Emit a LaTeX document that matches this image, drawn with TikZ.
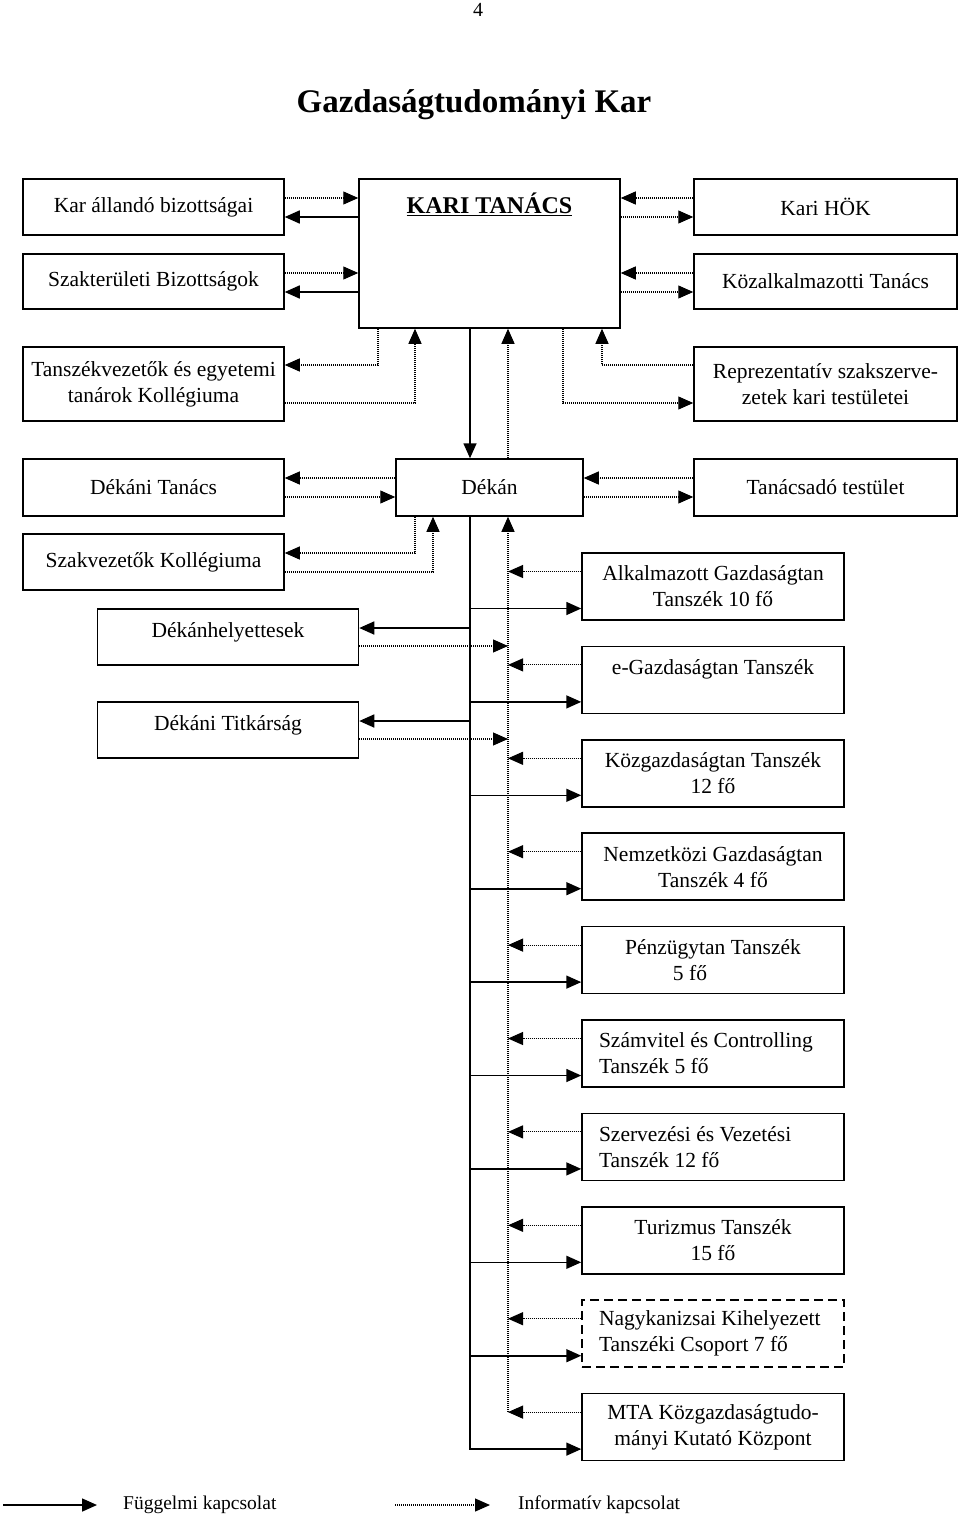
\documentclass[tikz,border=0pt]{standalone}
\usepackage{fontspec}
\setmainfont{Liberation Serif}
\usetikzlibrary{arrows.meta,calc}
\newcommand\mainsz{\fontsize{21.5}{26}\selectfont}
\newcommand\legsz{\fontsize{19.5}{23}\selectfont}
\tikzset{
  box/.style={draw, line width=1.5pt, inner sep=2pt, align=center, font=\mainsz},
  sub/.style={line width=1.6pt, -{Triangle[length=15pt,width=13pt]}},
  info/.style={line width=1.1pt, dash pattern=on 1pt off 1pt, -{Triangle[length=15pt,width=13pt]}},
  lbox/.style={box, minimum width=261pt},
  rbox/.style={box, minimum width=263pt},
  dbox/.style={box, minimum width=262pt, minimum height=67pt},
  ltext/.style={text width=228pt, inner xsep=17pt, align=flush left},
}
\begin{document}
\begin{tikzpicture}[x=1pt,y=-1pt]
\useasboundingbox (0,0) rectangle (960,1518);
% header
\node[font=\fontsize{20}{24}\selectfont] (pg) at (478,10) {4};
\node[font=\fontsize{33}{38}\selectfont\bfseries] (title) at (474,105) {Gazdaságtudományi Kar};
% centre
\node[box, minimum width=261pt, minimum height=149pt] (kt) at (489.5,253.5) {};
\node[font=\fontsize{24}{28}\selectfont\bfseries] (kttext) at (489.5,204) {\underline{KARI TANÁCS}};
\node[box, minimum width=187pt, minimum height=57pt] (dekan) at (489.5,487.5) {Dékán};
% left column
\node[lbox, minimum height=56pt] (kab) at (153.5,207) {Kar állandó bizottságai};
\node[lbox, minimum height=55pt] (szb) at (153.5,281.5) {Szakterületi Bizottságok};
\node[lbox, minimum height=74pt] (tvk) at (153.5,384) {Tanszékvezetők és egyetemi\\tanárok Kollégiuma};
\node[lbox, minimum height=57pt] (dt) at (153.5,487.5) {Dékáni Tanács};
\node[lbox, minimum height=56pt] (szk) at (153.5,562) {Szakvezetők Kollégiuma};
\node[lbox, minimum height=56pt] (dh) at (228,637) {Dékánhelyettesek\\[-13pt]\mbox{}};
\node[lbox, minimum height=56pt] (dtk) at (228,730) {Dékáni Titkárság\\[-13pt]\mbox{}};
% right column
\node[rbox, minimum height=56pt] (hok) at (825.5,207) {Kari HÖK};
\node[rbox, minimum height=55pt] (kozt) at (825.5,281.5) {Közalkalmazotti Tanács};
\node[rbox, minimum height=74pt] (rep) at (825.5,384) {Reprezentatív szakszerve-\\zetek kari testületei};
\node[rbox, minimum height=57pt] (tt) at (825.5,487.5) {Tanácsadó testület};
% departments
\node[dbox] (alk) at (713,586.5) {Alkalmazott Gazdaságtan\\Tanszék 10 fő};
\node[dbox] (egz) at (713,679.9) {e-Gazdaságtan Tanszék\\\mbox{}};
\node[dbox] (kgz) at (713,773.3) {Közgazdaságtan Tanszék\\12 fő};
\node[dbox] (nmz) at (713,866.7) {Nemzetközi Gazdaságtan\\Tanszék 4 fő};
\node[dbox] (pnz) at (713,960.1) {Pénzügytan Tanszék\\5 fő\hspace*{46pt}};
\node[dbox, ltext] (szc) at (713,1053.5) {Számvitel és Controlling\\Tanszék 5 fő};
\node[dbox, ltext] (szv) at (713,1146.9) {Szervezési és Vezetési\\Tanszék 12 fő};
\node[dbox] (tur) at (713,1240.3) {Turizmus Tanszék\\15 fő};
\node[dbox, ltext, dash pattern=on 9pt off 5pt] (nkz) at (713,1333.7) {Nagykanizsai Kihelyezett\\Tanszéki Csoport 7 fő};
\node[dbox] (mta) at (713,1427.1) {MTA Közgazdaságtudo-\\mányi Kutató Központ};
\coordinate (dbot) at (508,1412.1);
% KARI TANÁCS left links
\draw[info] ($(kab.east)+(0,-9)$) -- ($(kab.east -| kt.west)+(0,-9)$);
\draw[sub] ($(kab.east -| kt.west)+(0,10)$) -- ($(kab.east)+(0,10)$);
\draw[info] ($(szb.east)+(0,-8.5)$) -- ($(szb.east -| kt.west)+(0,-8.5)$);
\draw[sub] ($(szb.east -| kt.west)+(0,10.5)$) -- ($(szb.east)+(0,10.5)$);
\draw[info] ($(kt.south)+(-111.5,0)$) |- ($(tvk.east)+(0,-19)$);
\draw[info] ($(tvk.east)+(0,19)$) -| ($(kt.south)+(-74.5,0)$);
% KARI TANÁCS right links
\draw[info] ($(hok.west)+(0,-9)$) -- ($(hok.west -| kt.east)+(0,-9)$);
\draw[info] ($(hok.west -| kt.east)+(0,10)$) -- ($(hok.west)+(0,10)$);
\draw[info] ($(kozt.west)+(0,-8.5)$) -- ($(kozt.west -| kt.east)+(0,-8.5)$);
\draw[info] ($(kozt.west -| kt.east)+(0,10.5)$) -- ($(kozt.west)+(0,10.5)$);
\draw[info] ($(rep.west)+(0,-19)$) -| ($(kt.south)+(112.5,0)$);
\draw[info] ($(kt.south)+(73.5,0)$) |- ($(rep.west)+(0,19)$);
% KARI TANÁCS - Dékán
\draw[sub] ($(kt.south)+(-19.5,0)$) -- ($(dekan.north)+(-19.5,0)$);
\draw[info] ($(dekan.north)+(18.5,0)$) -- ($(kt.south)+(18.5,0)$);
% Dékán side links
\draw[info] ($(dekan.west)+(0,-9.5)$) -- ($(dekan.west -| dt.east)+(0,-9.5)$);
\draw[info] ($(dt.east)+(0,9.5)$) -- ($(dt.east -| dekan.west)+(0,9.5)$);
\draw[info] ($(tt.west)+(0,-9.5)$) -- ($(tt.west -| dekan.east)+(0,-9.5)$);
\draw[info] ($(tt.west -| dekan.east)+(0,9.5)$) -- ($(tt.west)+(0,9.5)$);
\draw[info] ($(dekan.south)+(-74.5,0)$) |- ($(szk.east)+(0,-9)$);
\draw[info] ($(szk.east)+(0,10)$) -| ($(dekan.south)+(-56.5,0)$);
% Dékán trunk
\draw[sub] ($(dekan.south)+(-19.5,0)$) |- ($(dh.east)+(0,-9)$);
\draw[sub] ($(dekan.south)+(-19.5,0)$) |- ($(dtk.east)+(0,-9)$);
\draw[info] ($(dh.east)+(0,9)$) -- ($(dh.east -| dbot)+(0,9)$);
\draw[info] ($(dtk.east)+(0,9)$) -- ($(dtk.east -| dbot)+(0,9)$);
\draw[info] (dbot) -- ($(dekan.south)+(18.5,0)$);
\foreach \n in {alk,egz,kgz,nmz,pnz,szc,szv,tur,nkz,mta}{
  \draw[sub] ($(dekan.south)+(-19.5,0)$) |- ($(\n.west)+(0,22)$);
  \draw[info] ($(\n.west)+(0,-15)$) -- ($(\n.west -| dbot)+(0,-15)$);
}
% legend
\coordinate (l1s) at (3,1505);
\coordinate (l1e) at (97,1505);
\node[font=\legsz, anchor=west, inner sep=0pt] (l1t) at (123,1505) {Függelmi kapcsolat};
\draw[sub] (l1s) -- (l1e);
\coordinate (l2s) at (395,1505);
\coordinate (l2e) at (490,1505);
\node[font=\legsz, anchor=west, inner sep=0pt] (l2t) at (518,1505) {Informatív kapcsolat};
\draw[info] (l2s) -- (l2e);
\end{tikzpicture}
\end{document}
